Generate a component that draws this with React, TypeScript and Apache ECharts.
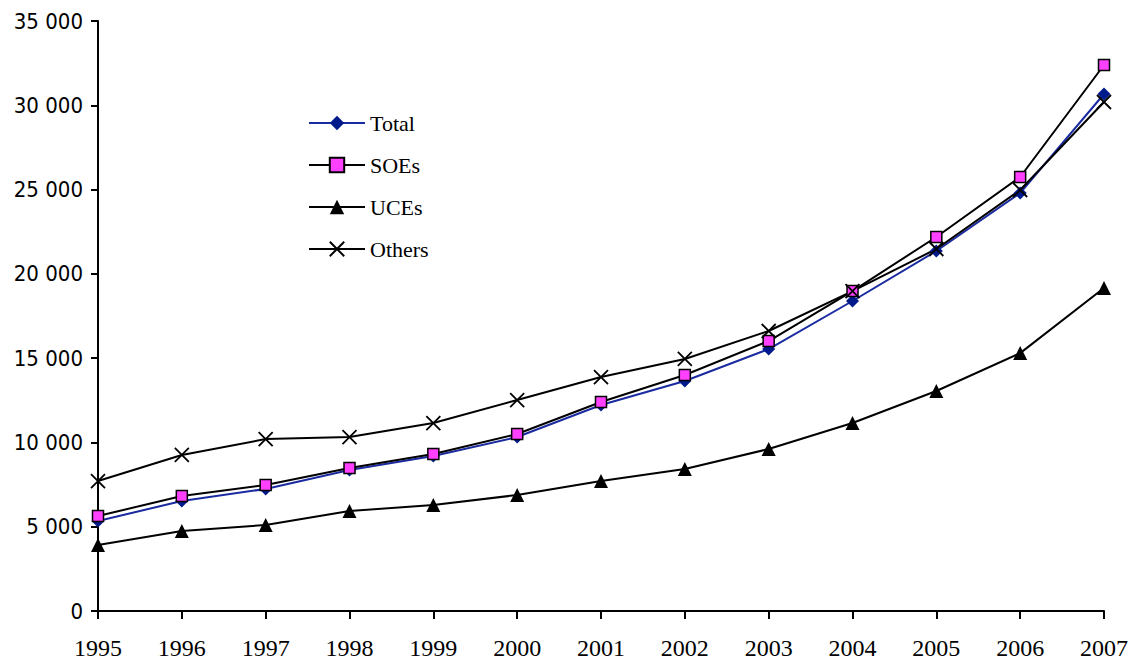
import React, { useEffect, useRef } from "react";
import * as echarts from "echarts";

const years = ["1995","1996","1997","1998","1999","2000","2001","2002","2003","2004","2005","2006","2007"];
const total = [5340, 6525, 7240, 8365, 9195, 10320, 12220, 13645, 15540, 18390, 21355, 24795, 30670];
const soes = [5635, 6820, 7475, 8485, 9315, 10500, 12400, 14000, 16015, 18980, 22185, 25745, 32390];
const uces = [3915, 4745, 5100, 5930, 6290, 6880, 7710, 8425, 9610, 11150, 13050, 15300, 19160];
const others = [7710, 9255, 10200, 10320, 11150, 12515, 13880, 14950, 16610, 18980, 21475, 24975, 30195];

const crossPath = "path://M0,0L10,10M10,0L0,10";

export default function App() {
  const ref = useRef<HTMLDivElement>(null);
  useEffect(() => {
    const chart = echarts.init(ref.current!, null, { renderer: "svg" });
    chart.setOption({
      animation: false,
      backgroundColor: "#fff",
      grid: { left: 98, right: 29, top: 21, bottom: 50 },
      legend: {
        orient: "vertical",
        left: 303,
        top: 107,
        itemWidth: 56,
        itemHeight: 18,
        itemGap: 20,
        textStyle: { fontFamily: "Liberation Serif", fontSize: 22, color: "#000" },
        data: ["Total", "SOEs", "UCEs", "Others"],
      },
      xAxis: {
        type: "category",
        data: years,
        boundaryGap: false,
        axisLine: { lineStyle: { color: "#000", width: 2 } },
        axisTick: { length: 8, alignWithLabel: true, lineStyle: { color: "#000", width: 2 } },
        axisLabel: { fontFamily: "Liberation Serif", fontSize: 24, color: "#000", margin: 37, verticalAlign: "middle" },
      },
      yAxis: {
        type: "value",
        min: 0,
        max: 35000,
        interval: 5000,
        splitLine: { show: false },
        axisLine: { show: true, lineStyle: { color: "#000", width: 2 } },
        axisTick: { show: true, length: 7, lineStyle: { color: "#000", width: 2 } },
        axisLabel: {
          fontFamily: "DejaVu Sans Condensed",
          fontSize: 22,
          color: "#000",
          margin: 15,
          formatter: (v: number) => (v === 0 ? "0" : String(v).replace(/\B(?=(\d{3})+(?!\d))/g, " ")),
        },
      },
      series: [
        {
          name: "Total",
          type: "line",
          data: total,
          symbol: "diamond",
          symbolSize: 13,
          lineStyle: { color: "#1a2aa0", width: 2 },
          itemStyle: { color: "#001a8c" },
        },
        {
          name: "SOEs",
          type: "line",
          data: soes,
          symbol: "rect",
          symbolSize: 11,
          lineStyle: { color: "#000", width: 2 },
          itemStyle: { color: "#ff40ff", borderColor: "#000", borderWidth: 1.5 },
        },
        {
          name: "UCEs",
          type: "line",
          data: uces,
          symbol: "triangle",
          symbolSize: 14,
          lineStyle: { color: "#000", width: 2 },
          itemStyle: { color: "#000" },
        },
        {
          name: "Others",
          type: "line",
          data: others,
          symbol: crossPath,
          symbolSize: 14,
          lineStyle: { color: "#000", width: 2 },
          itemStyle: { color: "none", borderColor: "#000", borderWidth: 1.8 },
        },
      ],
    });
    return () => chart.dispose();
  }, []);
  return (
    <div
      ref={ref}
      style={{ position: "fixed", left: 0, top: 0, width: 1133, height: 661, background: "#fff" }}
    />
  );
}
